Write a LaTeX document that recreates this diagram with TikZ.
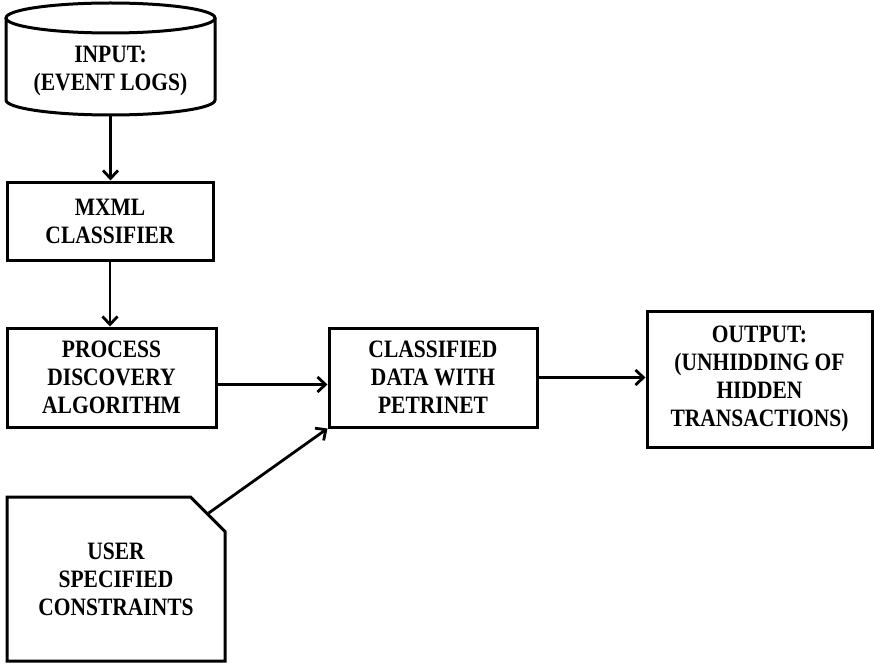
\documentclass[tikz,border=0pt]{standalone}
\usepackage{fontspec}
\setmainfont{Liberation Serif}
\newfontfamily\boxfont[FakeStretch=0.86]{Liberation Serif}
\usetikzlibrary{arrows.meta,shapes.misc}
\begin{document}
\begin{tikzpicture}[x=1pt,y=1pt,
  label/.style={align=center,inner sep=0pt,font=\boxfont\bfseries\fontsize{25}{28}\selectfont},
  box/.style={label,draw,line width=3pt,rectangle},
  arr/.style={line width=2.8pt,-{Straight Barb[length=8pt,width=15pt,line width=2.8pt]}}]
\useasboundingbox (0,0) rectangle (874,-663);

% input store (cylinder)
\draw[line width=3pt] (6,-18) -- (6,-100)
  arc[start angle=180,end angle=360,x radius=104.5pt,y radius=15pt] -- (215,-18);
\draw[line width=3pt] (110.5,-18) ellipse[x radius=104.5pt,y radius=15pt];
\node[label] (inp) at (110.5,-71) {INPUT:\\(EVENT LOGS)};
\coordinate (inpbot) at (110.5,-116.5);

% processing steps
\node[box,minimum width=206pt,minimum height=78pt] (mxml) at (110,-221) {MXML\\CLASSIFIER};
\node[box,minimum width=209pt,minimum height=99pt] (proc) at (111.5,-377.5) {PROCESS\\DISCOVERY\\ALGORITHM};
\node[box,minimum width=208pt,minimum height=99pt] (cls) at (433,-377.5) {CLASSIFIED\\DATA WITH\\PETRINET};
\node[box,minimum width=225pt,minimum height=136pt] (out) at (759.5,-379) {OUTPUT:\\(UNHIDDING OF\\HIDDEN\\TRANSACTIONS)};
\node[box,chamfered rectangle,chamfered rectangle corners=north east,
      chamfered rectangle xsep=18pt,chamfered rectangle ysep=16.5pt,
      minimum width=218pt,minimum height=164pt] (user) at (116,-579) {USER\\SPECIFIED\\CONSTRAINTS};

% flow
\draw[arr] (inpbot) -- (inpbot |- mxml.north);
\draw[arr] (mxml.south) -- (mxml.south |- proc.north);
\draw[arr] ([yshift=-7pt]proc.east) -- ([yshift=-7pt]proc.east -| cls.west);
\draw[arr] (cls.east) -- (cls.east -| out.west);
\draw[arr] (user) -- (cls.south west);
\end{tikzpicture}
\end{document}
